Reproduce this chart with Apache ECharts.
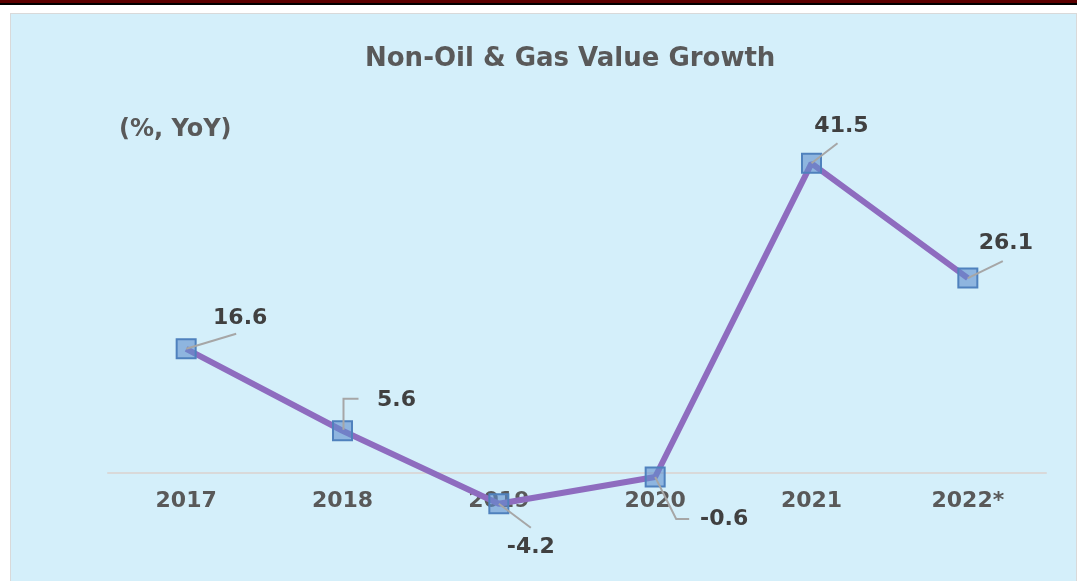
<!DOCTYPE html>
<html>
<head>
<meta charset="utf-8">
<script src="https://cdn.jsdelivr.net/npm/echarts@6/dist/echarts.min.js"></script>
<style>
  html, body { margin: 0; padding: 0; background: #ffffff; width: 1077px; height: 581px; overflow: hidden; }
  #band { position: absolute; left: 0; top: 0; width: 1077px; height: 3px; background: #5c0000; }
  #bandline { position: absolute; left: 0; top: 3px; width: 1077px; height: 2px; background: #000000; }
  #panel { position: absolute; left: 10px; top: 13px; width: 1065px; height: 570px; background: #d4effa; border: 1px solid #d9d9d9; }
  #chart { position: absolute; left: 0; top: 0; width: 1077px; height: 581px; }
</style>
</head>
<body>
<div id="band"></div>
<div id="bandline"></div>
<div id="panel"></div>
<div id="chart"></div>
<script>
const categories = ['2017', '2018', '2019', '2020', '2021', '2022*'];
const growth = [16.6, 5.6, -4.2, -0.6, 41.5, 26.1];
const valueLabels = ['16.6', '5.6', '-4.2', '-0.6', '41.5', '26.1'];

// label guide styling: polyline points and label centre, relative to each point (pixels)
const guides = [
  { line: [[0, 0], [50, -15]], text: [54, -31] },
  { line: [[1, -1], [1, -32], [16, -32]], text: [54, -30] },
  { line: [[0, 0], [32, 24]], text: [32, 43] },
  { line: [[0, 0], [21, 42], [34, 42]], text: [69, 42] },
  { line: [[0, 0], [26, -20]], text: [30, -37] },
  { line: [[0, 0], [35, -17]], text: [38, -35] }
];

const FONT = '"DejaVu Sans", Verdana, sans-serif';
const chart = echarts.init(document.getElementById('chart'), null, { renderer: 'canvas' });

chart.setOption({
  backgroundColor: 'transparent',
  animation: false,
  title: [
    {
      text: 'Non-Oil & Gas Value Growth',
      left: 360, top: 41,
      textStyle: { fontFamily: FONT, fontWeight: 'bold', fontSize: 26, color: '#595959' }
    },
    {
      text: '(%, YoY)',
      left: 114, top: 113,
      textStyle: { fontFamily: FONT, fontWeight: 'bold', fontSize: 24, color: '#595959' }
    }
  ],
  grid: { left: 108, right: 31, top: 100, bottom: 34, containLabel: false, outerBoundsMode: 'none' },
  xAxis: {
    type: 'category',
    data: categories,
    boundaryGap: true,
    axisLine: { show: true, onZero: true, lineStyle: { color: '#d9d9d9', width: 2 } },
    axisTick: { show: false },
    axisLabel: { margin: -57, fontFamily: FONT, fontWeight: 'bold', fontSize: 22, color: '#595959' },
    splitLine: { show: false }
  },
  yAxis: {
    type: 'value', min: -10, max: 50, interval: 10, show: false,
    splitLine: { show: false }
  },
  series: [
    {
      type: 'line',
      data: growth,
      z: 3,
      lineStyle: { color: '#8e6cbf', width: 6 },
      symbol: 'rect',
      symbolSize: 19,
      itemStyle: { color: 'rgba(95,142,205,0.6)', borderColor: '#4f81bd', borderWidth: 2 },
      label: { show: false }
    },
    {
      type: 'custom',
      z: 4,
      data: growth.map((v, i) => [i, v]),
      encode: { x: 0, y: 1 },
      renderItem: function (params, api) {
        const i = params.dataIndex;
        const pt = api.coord([api.value(0), api.value(1)]);
        const g = guides[i];
        return {
          type: 'group',
          children: [
            {
              type: 'polyline',
              shape: { points: g.line.map(p => [pt[0] + p[0], pt[1] + p[1]]) },
              style: { stroke: '#a6a6a6', lineWidth: 2, fill: null }
            },
            {
              type: 'text',
              style: {
                x: pt[0] + g.text[0], y: pt[1] + g.text[1],
                text: valueLabels[i],
                fill: '#404040',
                font: 'bold 22px ' + FONT,
                align: 'center', verticalAlign: 'middle'
              }
            }
          ]
        };
      }
    }
  ]
});
</script>
</body>
</html>
